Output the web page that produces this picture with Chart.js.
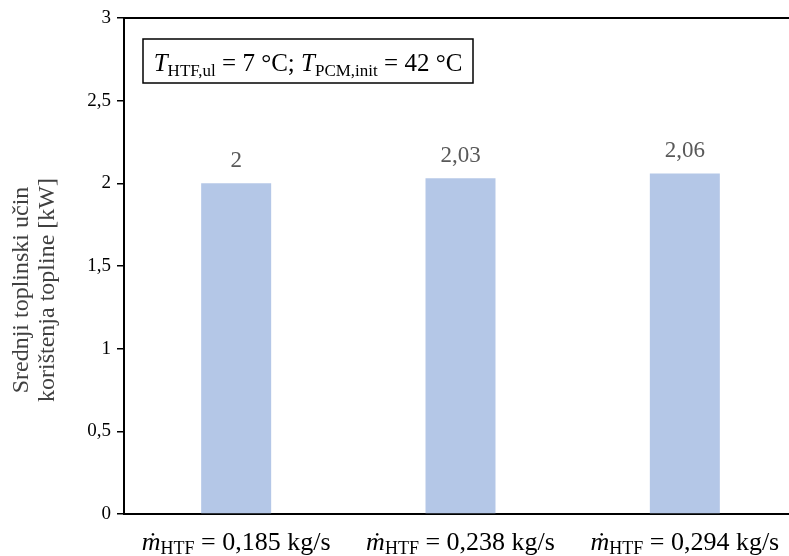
<!DOCTYPE html>
<html>
<head>
<meta charset="utf-8">
<script src="https://cdn.jsdelivr.net/npm/chart.js@4.4.0/dist/chart.umd.min.js"></script>
<style>
  html, body { margin: 0; padding: 0; background: #fff; overflow: hidden; }
  #wrap { width: 800px; height: 556px; }
</style>
</head>
<body>
<div id="wrap"><canvas id="chart"></canvas></div>
<script>
const flowRates = ["0,185", "0,238", "0,294"];
const heatPower = [2, 2.03, 2.06];
const valueLabels = ["2", "2,03", "2,06"];
const yTitle = ["Srednji toplinski učin", "korištenja topline [kW]"];

const serif = '"Liberation Serif", "Times New Roman", serif';

// draws a line of text made of pieces, some of them subscripts
function drawRich(ctx, parts, x, y, align) {
  let total = 0;
  parts.forEach((p) => {
    ctx.font = p.font;
    p.w = ctx.measureText(p.text).width;
    total += p.w;
  });
  let cx = align === "center" ? x - total / 2 : x;
  ctx.textBaseline = "alphabetic";
  ctx.textAlign = "left";
  parts.forEach((p) => {
    ctx.font = p.font;
    ctx.fillText(p.text, cx, y + (p.dy || 0));
    cx += p.w;
  });
}

const extras = {
  id: "extras",
  afterDatasetsDraw(chart) {
    const ctx = chart.ctx;
    const area = chart.chartArea;
    const xs = chart.scales.x;
    const ys = chart.scales.y;
    ctx.save();

    // top line of the plot area
    ctx.strokeStyle = "#000";
    ctx.lineWidth = 2;
    ctx.beginPath();
    ctx.moveTo(area.left, area.top);
    ctx.lineTo(area.right, area.top);
    ctx.stroke();

    // value labels
    ctx.fillStyle = "#595959";
    ctx.font = "23px " + serif;
    ctx.textAlign = "center";
    ctx.textBaseline = "alphabetic";
    heatPower.forEach((v, i) => {
      ctx.fillText(valueLabels[i], xs.getPixelForValue(i), ys.getPixelForValue(v) - 16);
    });

    // category labels
    ctx.fillStyle = "#000";
    flowRates.forEach((r, i) => {
      drawRich(ctx, [
        { text: "ṁ", font: "italic 26px " + serif },
        { text: "HTF", font: "18px " + serif, dy: 4 },
        { text: " = " + r + " kg/s", font: "26px " + serif }
      ], xs.getPixelForValue(i), area.bottom + 36, "center");
    });

    // y axis title
    ctx.save();
    ctx.translate(34, 290);
    ctx.rotate(-Math.PI / 2);
    ctx.fillStyle = "#404040";
    ctx.font = "24px " + serif;
    ctx.textAlign = "center";
    ctx.textBaseline = "middle";
    ctx.fillText(yTitle[0], 0, -12);
    ctx.fillText(yTitle[1], 0, 14);
    ctx.restore();

    // condition box
    const bx = area.left + 19, by = area.top + 21, bw = 330, bh = 44;
    ctx.lineWidth = 1.5;
    ctx.strokeStyle = "#000";
    ctx.fillStyle = "#fff";
    ctx.fillRect(bx, by, bw, bh);
    ctx.strokeRect(bx, by, bw, bh);
    ctx.fillStyle = "#000";
    drawRich(ctx, [
      { text: "T", font: "italic 25px " + serif },
      { text: "HTF,ul", font: "17px " + serif, dy: 5 },
      { text: " = 7 °C; ", font: "25px " + serif },
      { text: "T", font: "italic 25px " + serif },
      { text: "PCM,init", font: "17px " + serif, dy: 5 },
      { text: " = 42 °C", font: "25px " + serif }
    ], bx + bw / 2, by + 32, "center");

    ctx.restore();
  }
};

new Chart(document.getElementById("chart"), {
  type: "bar",
  data: {
    labels: flowRates,
    datasets: [{
      data: heatPower,
      backgroundColor: "#B4C7E7",
      borderWidth: 0,
      categoryPercentage: 1,
      barPercentage: 0.312
    }]
  },
  options: {
    responsive: true,
    maintainAspectRatio: false,
    animation: false,
    layout: { padding: { top: 18, left: 0, right: 3, bottom: 0 } },
    plugins: {
      legend: { display: false },
      tooltip: { enabled: false }
    },
    scales: {
      x: {
        ticks: { display: false },
        grid: { display: false },
        border: { display: true, color: "#000", width: 2 },
        afterFit: (s) => { s.height = 42; }
      },
      y: {
        min: 0,
        max: 3,
        ticks: {
          stepSize: 0.5,
          color: "#000",
          padding: 6,
          font: { family: serif, size: 19 },
          callback: (v) => String(v).replace(".", ",")
        },
        grid: {
          drawOnChartArea: false,
          drawTicks: true,
          tickLength: 7,
          color: "#000",
          lineWidth: 1.5
        },
        border: { display: true, color: "#000", width: 2 },
        afterFit: (s) => { s.width = 124; }
      }
    }
  },
  plugins: [extras]
});
</script>
</body>
</html>
